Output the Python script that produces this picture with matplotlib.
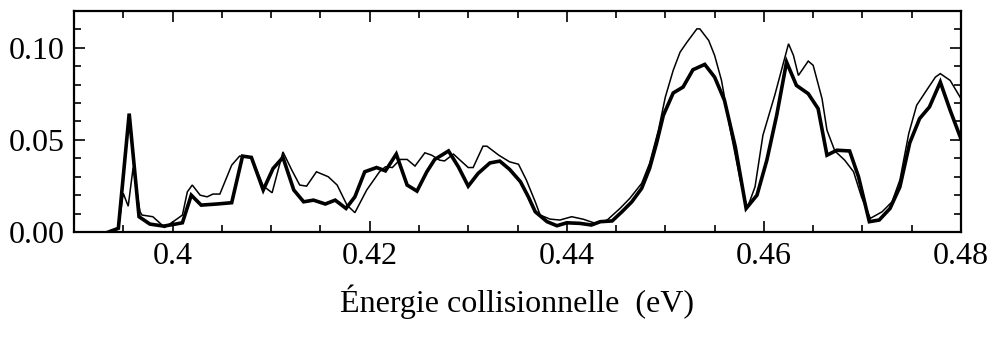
import matplotlib
matplotlib.use("Agg")
import matplotlib.pyplot as plt
from matplotlib.ticker import MultipleLocator

plt.rcParams['font.family'] = ['Liberation Serif', 'DejaVu Serif']

# Thick curve
x_thick = [0.3935, 0.3945, 0.3956, 0.3966, 0.3977, 0.3991, 0.4003, 0.4010, 0.4019, 0.4029,
           0.4045, 0.4060, 0.4071, 0.4080, 0.4092, 0.4102, 0.4112, 0.4123, 0.4133, 0.4143,
           0.4155, 0.4165, 0.4176, 0.4185, 0.4195, 0.4207, 0.4216, 0.4227, 0.4238, 0.4248,
           0.4258, 0.4266, 0.4280, 0.4290, 0.4300, 0.4310, 0.4322, 0.4332, 0.4342, 0.4353,
           0.4361, 0.4368, 0.4380, 0.4390, 0.4400, 0.4413, 0.4425, 0.4434, 0.4446, 0.4456,
           0.4466, 0.4476, 0.4484, 0.4491, 0.4498, 0.4508, 0.4518, 0.4528, 0.4540, 0.4550,
           0.4560, 0.4571, 0.4582, 0.4593, 0.4603, 0.4613, 0.4623, 0.4633, 0.4645, 0.4655,
           0.4664, 0.4674, 0.4687, 0.4696, 0.4707, 0.4717, 0.4728, 0.4738, 0.4748, 0.4758,
           0.4768, 0.4779, 0.4789, 0.4800]
y_thick = [0.0000, 0.0020, 0.0643, 0.0083, 0.0043, 0.0032, 0.0043, 0.0050, 0.0200, 0.0146,
           0.0152, 0.0159, 0.0412, 0.0405, 0.0228, 0.0345, 0.0405, 0.0228, 0.0164, 0.0173,
           0.0152, 0.0173, 0.0128, 0.0191, 0.0327, 0.0350, 0.0332, 0.0423, 0.0255, 0.0222,
           0.0327, 0.0394, 0.0440, 0.0354, 0.0249, 0.0318, 0.0375, 0.0385, 0.0340, 0.0273,
           0.0191, 0.0110, 0.0056, 0.0034, 0.0050, 0.0047, 0.0038, 0.0056, 0.0060, 0.0110,
           0.0164, 0.0237, 0.0345, 0.0480, 0.0634, 0.0755, 0.0787, 0.0881, 0.0910, 0.0841,
           0.0715, 0.0462, 0.0128, 0.0200, 0.0390, 0.0634, 0.0923, 0.0796, 0.0751, 0.0670,
           0.0417, 0.0444, 0.0440, 0.0300, 0.0056, 0.0065, 0.0128, 0.0245, 0.0484, 0.0616,
           0.0679, 0.0814, 0.0661, 0.0505]

# Thin curve
x_thin = [0.3935, 0.3945, 0.3950, 0.3955, 0.3960, 0.3967, 0.3969, 0.3980, 0.3992, 0.4003,
          0.4010, 0.4015, 0.4020, 0.4028, 0.4035, 0.4041, 0.4048, 0.4060, 0.4068, 0.4080,
          0.4092, 0.4101, 0.4112, 0.4121, 0.4129, 0.4136, 0.4146, 0.4158, 0.4167, 0.4177,
          0.4185, 0.4197, 0.4210, 0.4216, 0.4223, 0.4231, 0.4238, 0.4246, 0.4256, 0.4263,
          0.4271, 0.4276, 0.4285, 0.4300, 0.4305, 0.4315, 0.4319, 0.4331, 0.4342, 0.4351,
          0.4359, 0.4368, 0.4373, 0.4383, 0.4393, 0.4405, 0.4417, 0.4429, 0.4441, 0.4454,
          0.4464, 0.4476, 0.4484, 0.4493, 0.4500, 0.4508, 0.4515, 0.4522, 0.4532, 0.4535,
          0.4544, 0.4550, 0.4557, 0.4566, 0.4576, 0.4583, 0.4591, 0.4599, 0.4611, 0.4625,
          0.4630, 0.4635, 0.4645, 0.4650, 0.4659, 0.4664, 0.4672, 0.4682, 0.4691, 0.4699,
          0.4708, 0.4720, 0.4730, 0.4738, 0.4747, 0.4755, 0.4765, 0.4774, 0.4779, 0.4789,
          0.4800]
y_thin = [0.0000, 0.0020, 0.0210, 0.0140, 0.0350, 0.0110, 0.0092, 0.0083, 0.0025, 0.0065,
          0.0092, 0.0218, 0.0255, 0.0200, 0.0191, 0.0206, 0.0206, 0.0363, 0.0412, 0.0405,
          0.0250, 0.0213, 0.0435, 0.0336, 0.0255, 0.0249, 0.0327, 0.0300, 0.0255, 0.0146,
          0.0105, 0.0228, 0.0327, 0.0354, 0.0350, 0.0394, 0.0394, 0.0358, 0.0430, 0.0417,
          0.0390, 0.0386, 0.0423, 0.0350, 0.0350, 0.0466, 0.0466, 0.0417, 0.0381, 0.0368,
          0.0282, 0.0164, 0.0092, 0.0070, 0.0065, 0.0083, 0.0069, 0.0047, 0.0065, 0.0128,
          0.0183, 0.0264, 0.0372, 0.0553, 0.0733, 0.0878, 0.0977, 0.1031, 0.1103, 0.1103,
          0.1040, 0.0959, 0.0823, 0.0553, 0.0282, 0.0128, 0.0245, 0.0525, 0.0742, 0.1022,
          0.0959, 0.0850, 0.0928, 0.0905, 0.0724, 0.0553, 0.0440, 0.0390, 0.0327, 0.0191,
          0.0074, 0.0110, 0.0164, 0.0282, 0.0535, 0.0688, 0.0769, 0.0841, 0.0860, 0.0823,
          0.0724]

x_ticks = [0.40, 0.42, 0.44, 0.46, 0.48]
x_ticklabels = ["0.4", "0.42", "0.44", "0.46", "0.48"]
y_ticks = [0.00, 0.05, 0.10]
y_ticklabels = ["0.00", "0.05", "0.10"]
x_label = "Énergie collisionnelle  (eV)"

fig = plt.figure(figsize=(9.93, 3.39), dpi=100)
ax = fig.add_axes([74/993, 1 - 232/339, (961-74)/993, (232-11)/339])

ax.plot(x_thin, y_thin, color='black', lw=1.1, solid_joinstyle='miter')
ax.plot(x_thick, y_thick, color='black', lw=2.6, solid_joinstyle='miter')

ax.set_xlim(0.39, 0.48)
ax.set_ylim(0.0, 0.12)
ax.set_xticks(x_ticks)
ax.set_xticklabels(x_ticklabels)
ax.set_yticks(y_ticks)
ax.set_yticklabels(y_ticklabels)
ax.xaxis.set_minor_locator(MultipleLocator(0.005))
ax.yaxis.set_minor_locator(MultipleLocator(0.01))

ax.tick_params(which='both', direction='in', top=True, right=True, width=1.2, labelsize=23)
ax.tick_params(which='major', length=8)
ax.tick_params(which='minor', length=5)
ax.tick_params(axis='x', which='major', pad=7)
ax.tick_params(axis='y', which='major', pad=7)
for s in ax.spines.values():
    s.set_linewidth(1.6)

ax.set_xlabel(x_label, fontsize=23, labelpad=10)

fig.savefig("out.png", dpi=100)
